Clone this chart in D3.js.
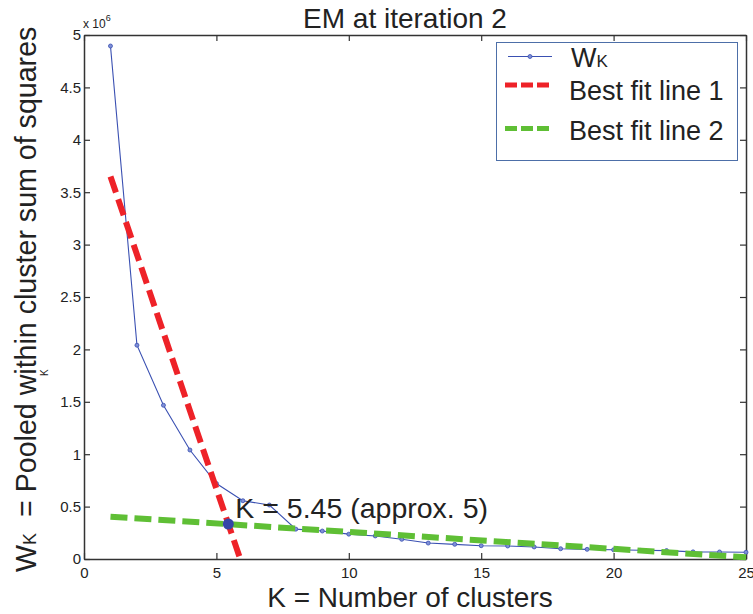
<!DOCTYPE html>
<html>
<head>
<meta charset="utf-8">
<script src="https://cdn.jsdelivr.net/npm/d3@7"></script>
<style>
  body { margin: 0; background: #fff; }
  text { font-family: "Liberation Sans", Arial, sans-serif; fill: #222; }
</style>
</head>
<body>
<div id="chart"></div>
<script>
// number of clusters K
const kValues = [1, 2, 3, 4, 5, 6, 7, 8, 9, 10, 11, 12, 13, 14, 15, 16, 17, 18, 19, 20, 21, 22, 23, 24, 25];
// W_K, in units of 10^6
const wkValues = [4.895, 2.04, 1.467, 1.04, 0.72, 0.556, 0.515, 0.285, 0.267, 0.237, 0.22, 0.188, 0.152,
  0.14, 0.127, 0.124, 0.115, 0.098, 0.092, 0.088, 0.083, 0.08, 0.068, 0.067, 0.064];

// best fit lines, [K, W] end points
const fit1 = [[1, 3.65], [5.9, 0]];
const fit2 = [[1, 0.404], [25, 0.016]];

// knee
const kneeK = 5.45;
const kneeW = 0.334;

const xTicks = [0, 5, 10, 15, 20, 25];
const yTicks = [0, 0.5, 1, 1.5, 2, 2.5, 3, 3.5, 4, 4.5, 5];

const legendLabels = ['Best fit line 1', 'Best fit line 2'];

const width = 753;
const height = 614;
const margin = { top: 35, right: 7, bottom: 55, left: 84 };

const blue = '#3a50b2';
const red = '#ee2228';
const green = '#5fbf35';

const svg = d3.select('#chart')
  .append('svg')
  .attr('width', width)
  .attr('height', height);

const x = d3.scaleLinear()
  .domain([0, 25])
  .range([margin.left, width - margin.right]);

const y = d3.scaleLinear()
  .domain([0, 5])
  .range([height - margin.bottom, margin.top]);

// axes, ticks point inwards like matlab
function styleAxis(g) {
  g.selectAll('.domain').attr('stroke', '#333').attr('stroke-width', 1.5);
  g.selectAll('.tick line').attr('stroke', '#333').attr('stroke-width', 1.2);
  g.selectAll('.tick text').attr('fill', '#222').attr('font-size', '15px')
    .attr('font-family', '"Liberation Sans", Arial, sans-serif');
}

svg.append('g')
  .attr('transform', `translate(0,${y(0)})`)
  .call(d3.axisBottom(x).tickValues(xTicks).tickSizeInner(-6).tickSizeOuter(0).tickPadding(8))
  .call(styleAxis);

svg.append('g')
  .attr('transform', `translate(0,${y(5)})`)
  .call(d3.axisTop(x).tickValues(xTicks).tickSizeInner(-6).tickSizeOuter(0).tickFormat(''))
  .call(styleAxis);

svg.append('g')
  .attr('transform', `translate(${x(0)},0)`)
  .call(d3.axisLeft(y).tickValues(yTicks).tickFormat(d3.format('~g')).tickSizeInner(-6).tickSizeOuter(0).tickPadding(3))
  .call(styleAxis);

svg.append('g')
  .attr('transform', `translate(${x(25)},0)`)
  .call(d3.axisRight(y).tickValues(yTicks).tickSizeInner(-6).tickSizeOuter(0).tickFormat(''))
  .call(styleAxis);

// x 10^6
const expo = svg.append('text')
  .attr('x', x(0) - 1)
  .attr('y', y(5) - 7)
  .attr('font-size', '12px');
expo.append('tspan').text('x 10');
expo.append('tspan').attr('dy', -7).attr('font-size', '9px').text('6');

const line = d3.line()
  .x(d => x(d[0]))
  .y(d => y(d[1]));

const wkData = kValues.map((k, i) => [k, wkValues[i]]);

svg.append('path')
  .datum(wkData)
  .attr('fill', 'none')
  .attr('stroke', blue)
  .attr('stroke-width', 1.1)
  .attr('d', line);

svg.append('g')
  .selectAll('circle')
  .data(wkData)
  .join('circle')
    .attr('cx', d => x(d[0]))
    .attr('cy', d => y(d[1]))
    .attr('r', 2)
    .attr('fill', '#7f8fd6')
    .attr('stroke', blue)
    .attr('stroke-width', 0.8);

svg.append('path')
  .datum(fit1)
  .attr('fill', 'none')
  .attr('stroke', red)
  .attr('stroke-width', 6)
  .attr('stroke-dasharray', '17,7')
  .attr('d', line);

svg.append('path')
  .datum(fit2)
  .attr('fill', 'none')
  .attr('stroke', green)
  .attr('stroke-width', 6)
  .attr('stroke-dasharray', '17,7')
  .attr('d', line);

svg.append('circle')
  .attr('cx', x(kneeK))
  .attr('cy', y(kneeW))
  .attr('r', 5.5)
  .attr('fill', '#3446a8');

svg.append('text')
  .attr('x', x(kneeK) + 7)
  .attr('y', y(kneeW) - 6)
  .attr('font-size', '28.5px')
  .text(`K = ${kneeK} (approx. ${Math.round(kneeK)})`);

// title and labels
svg.append('text')
  .attr('x', 405)
  .attr('y', 28)
  .attr('text-anchor', 'middle')
  .attr('font-size', '28px')
  .text('EM at iteration 2');

svg.append('text')
  .attr('x', 410)
  .attr('y', 607)
  .attr('text-anchor', 'middle')
  .attr('font-size', '28px')
  .text('K = Number of clusters');

const ylab = svg.append('text')
  .attr('transform', 'rotate(-90)')
  .attr('x', -572)
  .attr('y', 36)
  .attr('font-size', '28.6px');
ylab.append('tspan').text('W');
ylab.append('tspan').attr('font-size', '18px').text('K');
ylab.append('tspan').attr('dx', 16).text('= Pooled within cluster sum of squares');

// stray subscript left over by the tex interpreter
svg.append('text')
  .attr('transform', 'rotate(-90)')
  .attr('x', -376)
  .attr('y', 48)
  .attr('font-size', '10px')
  .text('K');

// legend
const legend = svg.append('g');

legend.append('rect')
  .attr('x', 496.5)
  .attr('y', 42.5)
  .attr('width', 241)
  .attr('height', 118)
  .attr('fill', '#fff')
  .attr('stroke', '#4d6fa8')
  .attr('stroke-width', 1);

legend.append('line')
  .attr('x1', 508).attr('x2', 552)
  .attr('y1', 56.5).attr('y2', 56.5)
  .attr('stroke', blue)
  .attr('stroke-width', 1.1);

legend.append('circle')
  .attr('cx', 530).attr('cy', 56.5).attr('r', 2)
  .attr('fill', '#7f8fd6')
  .attr('stroke', blue)
  .attr('stroke-width', 0.8);

const wkLabel = legend.append('text')
  .attr('x', 571)
  .attr('y', 67)
  .attr('font-size', '27px');
wkLabel.append('tspan').text('W');
wkLabel.append('tspan').attr('font-size', '17px').text('K');

const fitRows = [
  { label: legendLabels[0], color: red, lineY: 85, textY: 100 },
  { label: legendLabels[1], color: green, lineY: 128.5, textY: 140 }
];

fitRows.forEach(r => {
  legend.append('line')
    .attr('x1', 505).attr('x2', 549)
    .attr('y1', r.lineY).attr('y2', r.lineY)
    .attr('stroke', r.color)
    .attr('stroke-width', 5)
    .attr('stroke-dasharray', '12,4');
  legend.append('text')
    .attr('x', 569)
    .attr('y', r.textY)
    .attr('font-size', '27px')
    .text(r.label);
});
</script>
</body>
</html>
